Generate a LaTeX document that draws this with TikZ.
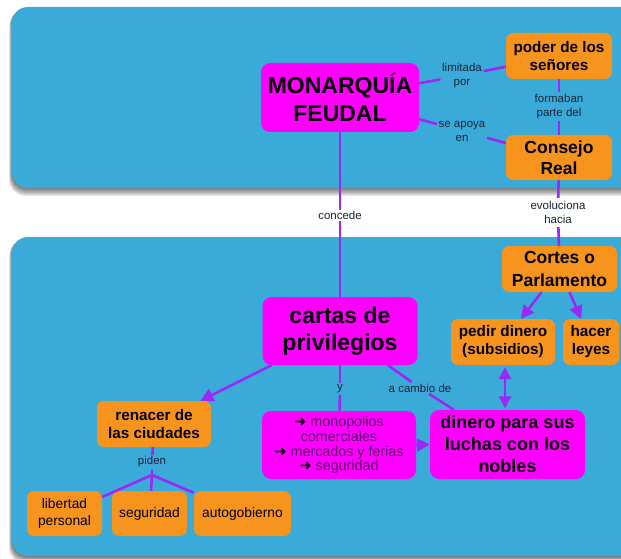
\documentclass[tikz,border=0pt]{standalone}
\usepackage{fontspec}
\setmainfont{Liberation Sans}
\newfontfamily\dvs{DejaVu Sans}
\usetikzlibrary{arrows.meta}
\definecolor{panelblue}{RGB}{58,171,217}
\definecolor{magfill}{RGB}{255,0,255}
\definecolor{orgfill}{RGB}{247,148,30}
\definecolor{linecol}{RGB}{155,40,245}
\definecolor{lblcol}{RGB}{25,35,55}
\definecolor{monotext}{RGB}{85,0,100}
\newcommand{\hvyarrow}{{\color{black}\dvs\fontsize{14.5}{14}\selectfont ➜}}
\begin{document}
\begin{tikzpicture}[x=1pt,y=-1pt,
  box/.style={rounded corners=7pt, inner sep=0pt, align=center, text=black},
  magbox/.style={box, fill=magfill, rounded corners=9pt},
  orgbox/.style={box, fill=orgfill},
  lab/.style={inner sep=1.5pt, align=center, text=lblcol, font=\fontsize{11.5}{14}\selectfont},
  link/.style={draw=linecol, line width=2.6pt},
  arr/.style={link, -{Triangle[length=13pt,width=13pt]}},
  dbl/.style={link, {Triangle[length=12pt,width=12pt]}-{Triangle[length=12pt,width=12pt]}},
  fbig/.style={font=\bfseries\fontsize{23}{27.5}\selectfont},
  fmid/.style={font=\bfseries\fontsize{17.5}{21}\selectfont},
  fsmall/.style={font=\bfseries\fontsize{15.3}{18}\selectfont},
  freg/.style={font=\fontsize{13.8}{16.5}\selectfont},
]
\useasboundingbox (0,0) rectangle (621,559);
\begin{scope}
  \clip (0,0) rectangle (621,559);
  \fill[white] (0,0) rectangle (621,559);
  \foreach \i in {1,...,8}{
    \fill[black, opacity=0.08, rounded corners=16pt] (12-\i*0.35,7+\i*0.4) rectangle (660,188+\i);
    \fill[black, opacity=0.08, rounded corners=16pt] (12-\i*0.35,237+\i*0.4) rectangle (660,556+\i);
  }
  \fill[panelblue, rounded corners=16pt] (12,7) rectangle (660,188);
  \fill[panelblue, rounded corners=16pt] (12,237) rectangle (660,556);
\end{scope}

% nodes
\node[magbox, fbig, minimum width=158pt, minimum height=69pt] (mon) at (340,97.5) {MONARQUÍA\\FEUDAL};
\node[orgbox, fsmall, minimum width=106pt, minimum height=46pt] (poder) at (559,56) {poder de los\\señores};
\node[orgbox, fmid, minimum width=106pt, minimum height=45pt] (consejo) at (559,157.5) {Consejo\\Real};
\node[orgbox, font=\bfseries\fontsize{17.5}{22.5}\selectfont, minimum width=115pt, minimum height=46pt] (cortes) at (559.5,269) {Cortes o\\Parlamento};
\node[orgbox, fsmall, minimum width=104pt, minimum height=46pt] (pedir) at (503,342) {pedir dinero\\(subsidios)};
\node[orgbox, fsmall, minimum width=56pt, minimum height=46pt] (hacer) at (591,342) {hacer\\leyes};
\node[magbox, fbig, minimum width=155pt, minimum height=68pt] (cartas) at (340,331) {cartas de\\privilegios};
\node[orgbox, font=\bfseries\fontsize{15.3}{17.5}\selectfont, minimum width=114pt, minimum height=46pt] (renacer) at (154,424) {renacer de\\las ciudades};
\node[magbox, text=monotext, font=\fontsize{14.3}{14.8}\selectfont, minimum width=154pt, minimum height=68pt] (mono) at (339,445)
  {\hvyarrow\ monopolios\\comerciales\\\hvyarrow\ mercados y ferias\\\hvyarrow\ seguridad};
\node[magbox, font=\bfseries\fontsize{18}{22}\selectfont, minimum width=155pt, minimum height=69pt] (dinero) at (507.5,444.5) {dinero para sus\\luchas con los\\nobles};
\node[orgbox, freg, minimum width=75pt, minimum height=45pt] (lib) at (64.5,513.5) {libertad\\personal};
\node[orgbox, freg, minimum width=75pt, minimum height=45pt] (seg) at (149.5,513.5) {seguridad};
\node[orgbox, freg, minimum width=97pt, minimum height=45pt] (auto) at (242.5,513.5) {autogobierno};

% labels
\node[lab] (lim) at (462,75.5) {limitada\\por};
\node[lab] (apo) at (462,131) {se apoya\\en};
\node[lab] (form) at (559,106.5) {formaban\\parte del};
\node[lab, fill=white, minimum width=71pt, minimum height=29pt] (evo) at (558,212.5) {evoluciona\\hacia};
\node[lab] (conc) at (340,215.5) {concede};
\node[lab] (ylab) at (340,389) {y};
\node[lab] (acam) at (420,388) {a cambio de};
\node[lab] (piden) at (152,462) {piden};
\coordinate (pj) at (152,475);

% connectors
\draw[link] (mon) -- (lim);
\draw[link] (lim) -- (poder);
\draw[link] (mon) -- (apo);
\draw[link] (apo) -- (consejo);
\draw[link] (poder) -- (form);
\draw[link] (form) -- (consejo);
\draw[link] (consejo) -- (evo);
\draw[link] (evo) -- (cortes);
\draw[link] (mon) -- (conc);
\draw[link] (conc) -- (cartas);
\draw[arr] (cortes) -- (pedir);
\draw[arr] (cortes) -- (hacer);
\draw[dbl, shorten <=2pt, shorten >=1.5pt] ([xshift=2pt]pedir.south) -- ([xshift=-2.5pt]dinero.north);
\draw[arr] (cartas) -- (renacer);
\draw[link] (cartas) -- (ylab);
\draw[link] (ylab) -- (mono);
\draw[link] (cartas) -- (acam);
\draw[link] (acam) -- (dinero);
\draw[arr] (mono.east) -- (dinero.west);
\draw[link] (renacer) -- (piden);
\draw[link] (piden) -- (pj);
\draw[link] (pj) -- (lib);
\draw[link] (pj) -- (seg);
\draw[link] (pj) -- (auto);
\end{tikzpicture}
\end{document}
